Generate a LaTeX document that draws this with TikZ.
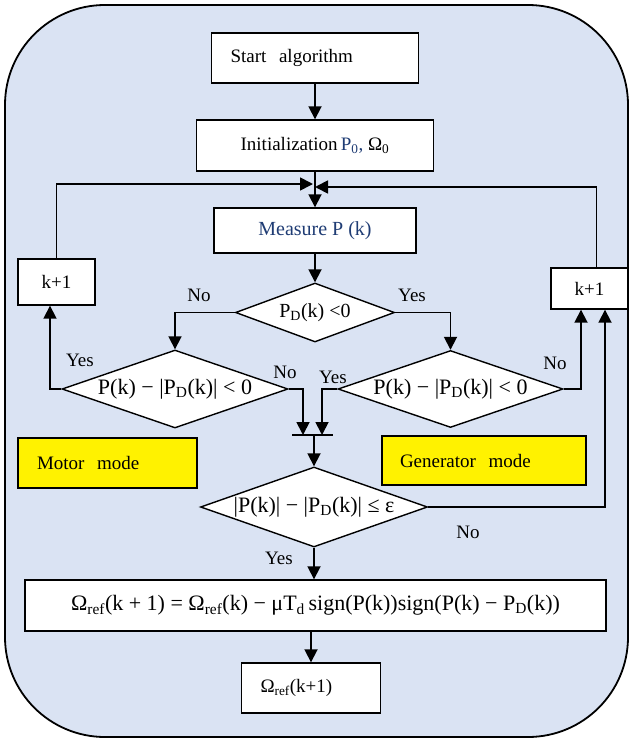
\documentclass[tikz,border=0pt]{standalone}
\usepackage{fontspec}
\setmainfont{Liberation Serif}
\usetikzlibrary{shapes.geometric, arrows.meta}
\definecolor{panelblue}{HTML}{DAE3F3}
\definecolor{textblue}{HTML}{1F3C74}

\begin{document}
\begin{tikzpicture}[x=1pt, y=-1pt,
  every node/.style={font=\fontsize{19}{22}\selectfont},
  box/.style={draw, line width=1.4pt, fill=white, inner sep=0pt},
  decision/.style={diamond, draw, line width=1.4pt, fill=white, inner sep=0pt},
  eqtext/.style={font=\fontsize{22}{24}\selectfont},
  modebox/.style={draw, line width=1.4pt, fill=yellow, inner sep=0pt, align=left},
  flow/.style={line width=1.8pt, -{Triangle[length=13pt, width=13pt]}},
  link/.style={line width=1.8pt}]

\useasboundingbox (0,0) rectangle (631,741);
\draw[line width=1.8pt, fill=panelblue, rounded corners=100pt] (5,5) rectangle (628,737);

% main column
\node[box, minimum width=207, minimum height=50, text width=169, align=left] (start) at (315,58) {Start\ \ algorithm};
\node[box, minimum width=237, minimum height=51] (init) at (315,145.5) {Initialization\,{\color{textblue}P\textsubscript{0},} Ω\textsubscript{0}};
\node[box, minimum width=202, minimum height=45, text=textblue, font=\fontsize{20}{22}\selectfont] (meas) at (315,230.5) {Measure P (k)};
\node[decision, minimum width=159, minimum height=59, font=\fontsize{20}{22}\selectfont] (D1) at (315,312.5) {\makebox[0pt]{P\textsubscript{D}(k) <0}};
\node[decision, eqtext, minimum width=226, minimum height=78] (D2) at (175,389) {\makebox[0pt]{P(k) − |P\textsubscript{D}(k)| < 0}};
\node[decision, eqtext, minimum width=225, minimum height=77] (D3) at (450.5,389) {\makebox[0pt]{P(k) − |P\textsubscript{D}(k)| < 0}};
\node[decision, eqtext, minimum width=227, minimum height=80] (D4) at (314,507) {\makebox[0pt]{|P(k)| − |P\textsubscript{D}(k)| ≤ ε}};
\node[box, eqtext, minimum width=581, minimum height=51] (formula) at (315.5,605.5) {Ω\textsubscript{ref}(k + 1) = Ω\textsubscript{ref}(k) − μT\textsubscript{d}\,sign(P(k))sign(P(k) − P\textsubscript{D}(k))};
\node[box, minimum width=139, minimum height=50, text width=101, align=left] (final) at (311,688) {Ω\textsubscript{ref}(k+1)};

% side boxes
\node[box, minimum width=77, minimum height=46] (kL) at (56.5,282) {k+1};
\node[box, minimum width=77, minimum height=41] (kR) at (589.5,288.5) {k+1};
\node[modebox, minimum width=179, minimum height=50, text width=141] (motor) at (107.5,463) {Motor\ \ mode};
\node[modebox, minimum width=204, minimum height=49, text width=168] (gen) at (484,460.5) {Generator\ \ mode};

% junctions
\coordinate (jL) at (313,184);
\coordinate (jR) at (315,187);
\coordinate (mL) at (303,435);
\coordinate (mR) at (322,435);
\coordinate (barL) at (292,435);
\coordinate (barR) at (333,435);
\coordinate (barM) at (314,435);

% labels
\node (noA) at (199,295) {No};
\node (yesA) at (412,295) {Yes};
\node (yesB) at (80,360) {Yes};
\node (noB) at (285,372) {No};
\node (yesC) at (333,377) {Yes};
\node (noC) at (555,363) {No};
\node (noD) at (468,532) {No};
\node (yesD) at (279,558) {Yes};

% connectors
\draw[flow] (start) -- (init);
\draw[flow] (init) -- (meas);
\draw[flow] (kL.north) |- (jL);
\draw[flow] ([xshift=7pt]kR.north) |- (jR);
\draw[flow] (meas) -- (D1);
\draw[flow] (D1.west) -| (D2.north);
\draw[flow] (D1.east) -| (D3.north);
\draw[flow] (D2.west) -| ([xshift=-6.5pt]kL.south);
\draw[flow] (D3.east) -| ([xshift=-8.5pt]kR.south);
\draw[flow] (D4.east) -| ([xshift=15.5pt]kR.south);
\draw[flow] (D2.east) -| (mL);
\draw[flow] (D3.west) -| (mR);
\draw[link] (barL) -- (barR);
\draw[flow] (barM) -- (D4.north);
\draw[flow] (D4.south) -- (D4.south |- formula.north);
\draw[flow] (final.north |- formula.south) -- (final);
\end{tikzpicture}
\end{document}
